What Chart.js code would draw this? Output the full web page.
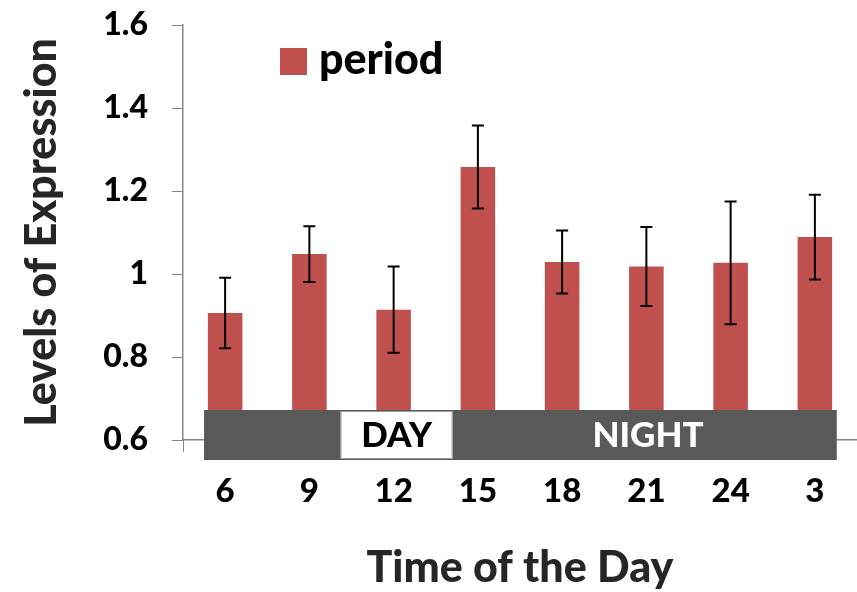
<!DOCTYPE html>
<html>
<head>
<meta charset="utf-8">
<script src="https://cdn.jsdelivr.net/npm/chart.js@4/dist/chart.umd.min.js"></script>
<style>
  html, body { margin: 0; padding: 0; background: #fff; }
  #wrap { width: 857px; height: 592px; }
</style>
</head>
<body>
<div id="wrap"><canvas id="myChart"></canvas></div>
<script>
const hours = ['6', '9', '12', '15', '18', '21', '24', '3'];
const period = [0.906, 1.048, 0.914, 1.258, 1.029, 1.018, 1.027, 1.089];
const periodErr = [0.085, 0.067, 0.104, 0.1, 0.076, 0.095, 0.148, 0.102];
const yTickValues = [0.6, 0.8, 1, 1.2, 1.4, 1.6];
const yTickLabels = ['0.6', '0.8', '1', '1.2', '1.4', '1.6'];

const FONT = 'Lato';
const WEIGHT = '900';
const barRed = '#C0504D';

const errorBars = {
    id: 'errorBars',
    afterDatasetsDraw(chart) {
        const ctx = chart.ctx;
        const y = chart.scales.y;
        const meta = chart.getDatasetMeta(0);
        ctx.save();
        ctx.strokeStyle = '#000';
        ctx.lineWidth = 2;
        meta.data.forEach((bar, i) => {
            const top = y.getPixelForValue(period[i] + periodErr[i]);
            const bot = y.getPixelForValue(period[i] - periodErr[i]);
            ctx.beginPath();
            ctx.moveTo(bar.x, top); ctx.lineTo(bar.x, bot);
            ctx.moveTo(bar.x - 6, top); ctx.lineTo(bar.x + 6, top);
            ctx.moveTo(bar.x - 6, bot); ctx.lineTo(bar.x + 6, bot);
            ctx.stroke();
        });
        ctx.restore();
    }
};

// dark day/night band over the foot of the bars
const dayNight = {
    id: 'dayNight',
    afterDatasetsDraw(chart) {
        const ctx = chart.ctx;
        const x = chart.scales.x;
        const y = chart.scales.y;
        const step = x.getPixelForValue(1) - x.getPixelForValue(0);
        const left = x.getPixelForValue(0) - step * 0.25;
        const right = x.getPixelForValue(7) + step * 0.26;
        const top = y.bottom - 30;
        const bottom = y.bottom + 20;
        ctx.save();
        ctx.fillStyle = '#595959';
        ctx.fillRect(left, top, right - left, bottom - top);
        const dl = x.getPixelForValue(1) + step * 0.37;
        const dr = x.getPixelForValue(3) - step * 0.3;
        ctx.fillStyle = '#fff';
        ctx.fillRect(dl, top + 1, dr - dl, bottom - top - 2);
        ctx.strokeStyle = '#999';
        ctx.lineWidth = 1;
        ctx.strokeRect(dl + 0.5, top + 1.5, dr - dl - 1, bottom - top - 3);
        ctx.font = WEIGHT + ' 35px ' + FONT;
        ctx.textAlign = 'center';
        ctx.textBaseline = 'middle';
        ctx.fillStyle = '#000';
        ctx.fillText('DAY', (dl + dr) / 2, (top + bottom) / 2 + 1);
        ctx.fillStyle = '#fff';
        ctx.fillText('NIGHT', x.getPixelForValue(5) + step * 0.02, (top + bottom) / 2 + 1);
        ctx.restore();
    }
};

const legendBox = {
    id: 'legendBox',
    afterDraw(chart) {
        const ctx = chart.ctx;
        ctx.save();
        ctx.fillStyle = barRed;
        ctx.fillRect(280, 48, 27, 27);
        ctx.fillStyle = '#000';
        ctx.font = WEIGHT + ' 43px ' + FONT;
        ctx.textBaseline = 'middle';
        ctx.fillText(chart.data.datasets[0].label, 319, 60);
        ctx.restore();
    }
};

const ctx = document.getElementById('myChart').getContext('2d');
const myChart = new Chart(ctx, {
    type: 'bar',
    data: {
        labels: hours,
        datasets: [{
            label: 'period',
            data: period,
            backgroundColor: barRed,
            borderWidth: 0,
            categoryPercentage: 1,
            barPercentage: 0.41
        }]
    },
    options: {
        responsive: true,
        maintainAspectRatio: false,
        animation: false,
        layout: { padding: { top: 25, right: 0, left: 0, bottom: 0 } },
        plugins: {
            legend: { display: false },
            tooltip: { enabled: false }
        },
        scales: {
            x: {
                afterFit(scale) {
                    scale.height = 152;
                    scale.paddingLeft = 0;
                    scale.paddingRight = 0;
                },
                grid: {
                    drawOnChartArea: false,
                    tickLength: 12,
                    color: '#868686'
                },
                border: { color: '#868686', width: 1.5 },
                ticks: {
                    color: '#000',
                    padding: 20,
                    font: { family: FONT, size: 33, weight: WEIGHT }
                },
                title: {
                    display: true,
                    text: 'Time of the Day',
                    color: '#262626',
                    padding: { top: 0, bottom: 0 },
                    font: { family: FONT, size: 43, weight: WEIGHT, lineHeight: 1.1 }
                }
            },
            y: {
                min: 0.6,
                max: 1.6,
                afterFit(scale) {
                    scale.width = 183;
                    scale.paddingTop = 0;
                    scale.paddingBottom = 0;
                },
                afterBuildTicks(scale) {
                    scale.ticks = yTickValues.map(v => ({ value: v }));
                },
                grid: {
                    drawOnChartArea: false,
                    tickLength: 11,
                    color: '#868686'
                },
                border: { color: '#868686', width: 1.5 },
                ticks: {
                    color: '#000',
                    padding: 24,
                    font: { family: FONT, size: 32, weight: WEIGHT },
                    callback: (v, i) => yTickLabels[i]
                },
                title: {
                    display: true,
                    text: 'Levels of Expression',
                    color: '#262626',
                    padding: { top: 16, bottom: 0 },
                    font: { family: FONT, size: 43, weight: WEIGHT, lineHeight: 1.2 }
                }
            }
        }
    },
    plugins: [errorBars, dayNight, legendBox]
});
</script>
</body>
</html>
